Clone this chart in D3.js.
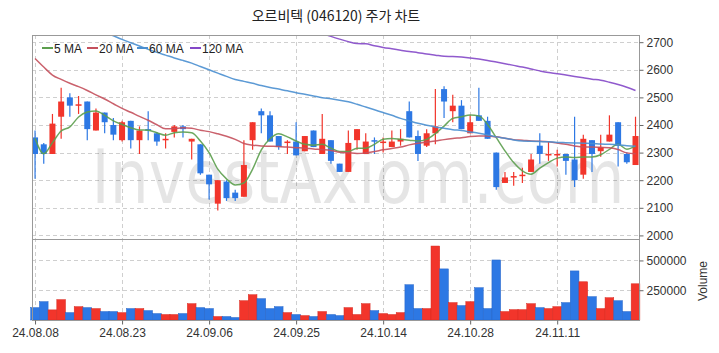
<!DOCTYPE html>
<html>
<head>
<meta charset="utf-8">
<script src="https://cdn.jsdelivr.net/npm/d3@7/dist/d3.min.js"></script>
<style>
  body { margin: 0; background: #fff; }
  svg text { font-family: "Liberation Sans", Arial, sans-serif; }
</style>
</head>
<body>
<div id="chart"></div>
<script>
// trading days (24.08.08 ~ 24.11.22)
var dates = ["08.08","08.09","08.12","08.13","08.14","08.16","08.19","08.20","08.21","08.22",
  "08.23","08.26","08.27","08.28","08.29","08.30","09.02","09.03","09.04","09.05",
  "09.06","09.09","09.10","09.11","09.12","09.13","09.19","09.20","09.23","09.24",
  "09.25","09.26","09.27","09.30","10.02","10.04","10.07","10.08","10.10","10.11",
  "10.14","10.15","10.16","10.17","10.18","10.21","10.22","10.23","10.24","10.25",
  "10.28","10.29","10.30","10.31","11.01","11.04","11.05","11.06","11.07","11.08",
  "11.11","11.12","11.13","11.14","11.15","11.18","11.19","11.20","11.21","11.22"];

var openP  = [2355,2330,2295,2430,2500,2470,2485,2380,2445,2400, 2345,2415,2345,2385,2370,2350,2375,2395,2340,2330,
              2220,2115,2195,2155,2140,2345,2450,2435,2360,2335, 2340,2305,2380,2295,2345,2260,2230,2345,2295,2345,
              2335,2320,2340,2450,2360,2325,2370,2530,2450,2470, 2370,2435,2415,2300,2190,2210,2215,2230,2325,2295,
              2290,2295,2275,2220,2345,2305,2340,2410,2295,2255];
var highP  = [2380,2335,2440,2535,2515,2505,2485,2460,2445,2425, 2415,2415,2395,2450,2375,2370,2400,2400,2350,2330,
              2220,2200,2200,2165,2345,2410,2460,2450,2360,2345, 2410,2360,2380,2440,2345,2260,2380,2385,2370,2355,
              2355,2380,2385,2485,2380,2385,2530,2540,2510,2490, 2435,2535,2430,2300,2230,2230,2245,2295,2370,2340,
              2310,2295,2430,2365,2345,2365,2435,2410,2300,2430];
var lowP   = [2205,2260,2295,2350,2430,2440,2345,2380,2370,2345, 2340,2315,2295,2345,2325,2315,2355,2355,2275,2220,
              2130,2090,2125,2125,2140,2310,2370,2340,2310,2295, 2290,2305,2320,2295,2260,2230,2230,2310,2295,2295,
              2300,2320,2325,2355,2270,2320,2330,2425,2410,2385, 2370,2415,2350,2165,2190,2180,2190,2230,2260,2270,
              2250,2220,2175,2205,2230,2285,2340,2250,2260,2255];
var closeP = [2295,2295,2405,2485,2470,2475,2385,2445,2410,2365, 2410,2345,2380,2380,2340,2350,2395,2385,2350,2225,
              2185,2200,2135,2135,2255,2410,2435,2340,2320,2340, 2290,2360,2320,2350,2270,2230,2335,2385,2340,2340,
              2340,2340,2350,2355,2295,2370,2395,2485,2470,2385, 2410,2415,2350,2175,2210,2215,2220,2275,2295,2295,
              2295,2270,2200,2350,2295,2320,2365,2325,2265,2360];
var volume = [104000,154000,85000,171000,62000,112000,104000,96000,71000,71000, 62000,96000,96000,79000,54000,46000,46000,54000,137000,104000,
              96000,29000,29000,21000,162000,212000,179000,96000,112000,62000, 46000,37000,29000,71000,46000,37000,104000,46000,137000,79000,
              54000,46000,62000,296000,96000,96000,621000,429000,146000,121000, 154000,271000,96000,504000,71000,87000,87000,137000,104000,96000,
              112000,146000,412000,321000,196000,96000,187000,162000,71000,304000];

// moving averages (null = not drawn)
var ma5 = [2352,2296,2336,2378,2393,2429,2447,2451,2435,2415, 2402,2390,2382,2381,2372,2363,2372,2375,2372,2342,
           2300,2240,2205,2183,2190,2240,2310,2350,2368,2357, 2342,2330,2327,2330,2316,2304,2304,2316,2316,2330,
           2348,2351,2348,2345,2342,2348,2369,2396,2424,2430, 2436,2433,2402,2354,2306,2264,2234,2222,2244,2264,
           2280,2284,2282,2284,2284,2292,2312,2330,2312,2324];
var ma20 = [2641,2610,2581,2565,2551,2539,2525,2509,2494,2477, 2460,2446,2431,2417,2401,2386,2387,2390,2388,2381,
            2376,2368,2359,2348,2333,2327,2324,2323,2322,2320, 2318,2316,2313,2311,2308,2301,2299,2297,2299,2304,
            2310,2315,2320,2328,2334,2338,2342,2347,2351,2354, 2358,2360,2360,2357,2352,2347,2345,2342,2341,2339,
            2335,2330,2324,2320,2320,2319,2318,2311,2299,2296];
var ma60 = [null,null,null,null,null,null,null,null,2736,2723, 2710,2698,2686,2674,2663,2653,2643,2634,2624,2612,
            2600,2588,2576,2565,2558,2551,2543,2536,2530,2524, 2517,2511,2505,2499,2495,2490,2484,2475,2465,2455,
            2445,2435,2424,2415,2406,2399,2393,2388,2383,2380, 2375,2370,2364,2357,2352,2346,2342,2341,2340,2339,
            2337,2336,2335,2334,2333,2331,2330,2328,2325,2323];
var ma120 = [null,null,null,null,null,null,null,null,null,null, null,null,null,null,null,null,null,null,null,null,
             null,null,null,null,null,null,null,null,null,null, null,null,null,2732,2721,2711,2702,2695,2694,2687,
             2681,2676,2671,2666,2662,2657,2653,2649,2648,2646, 2643,2639,2634,2628,2622,2616,2610,2603,2596,2590,
             2586,2581,2576,2571,2566,2562,2555,2547,2537,2525];

var priceTicks = [2000,2100,2200,2300,2400,2500,2600,2700];
var volTicks = [250000,500000];
var tickIdx = [0,10,20,30,40,50,60];

var maSeries = [
  {name: "5 MA",   values: ma5,   color: "#5c9e4e"},
  {name: "20 MA",  values: ma20,  color: "#c4505c"},
  {name: "60 MA",  values: ma60,  color: "#4a8fd0"},
  {name: "120 MA", values: ma120, color: "#8448c8"}
];

var upColor = "#f2352b", downColor = "#2d78e4";

var width = 719, height = 353;
var pL = 32, pR = 639, pT = 35, pM = 239, pB = 320;

var svg = d3.select("#chart").append("svg")
  .attr("width", width).attr("height", height);

var x = d3.scaleLinear().domain([-0.35, 69.4]).range([pL, pR]);
var y = d3.scaleLinear().domain([1987, 2726]).range([pM, pT]);
var yv = d3.scaleLinear().domain([0, 680000]).range([pB, pM]);

// clip for price panel
svg.append("defs").append("clipPath").attr("id", "clipP")
  .append("rect").attr("x", pL).attr("y", pT).attr("width", pR - pL).attr("height", pM - pT);

// grid
var grid = svg.append("g").attr("stroke", "#cfcfcf").attr("stroke-dasharray", "4,3").attr("stroke-width", 1);
grid.selectAll(".gy").data(priceTicks).enter().append("line")
  .attr("x1", pL).attr("x2", pR)
  .attr("y1", function(d) { return Math.round(y(d)) + 0.5; })
  .attr("y2", function(d) { return Math.round(y(d)) + 0.5; });
grid.selectAll(".gv").data(volTicks).enter().append("line")
  .attr("x1", pL).attr("x2", pR)
  .attr("y1", function(d) { return Math.round(yv(d)) + 0.5; })
  .attr("y2", function(d) { return Math.round(yv(d)) + 0.5; });
grid.selectAll(".gx").data(tickIdx).enter().append("line")
  .attr("y1", pT).attr("y2", pB)
  .attr("x1", function(d) { return Math.round(x(d)) + 0.5; })
  .attr("x2", function(d) { return Math.round(x(d)) + 0.5; });

// watermark
svg.append("text")
  .attr("x", 358).attr("y", 203)
  .attr("text-anchor", "middle")
  .attr("textLength", 533).attr("lengthAdjust", "spacingAndGlyphs")
  .style("font-family", "'DejaVu Sans', sans-serif")
  .style("font-size", "74px")
  .attr("fill", "#000").attr("fill-opacity", 0.1)
  .text("InvestAxiom.com");

// volume bars
var bw = x(1) - x(0);
svg.append("g").selectAll("rect").data(volume).enter().append("rect")
  .attr("x", function(d, i) { return x(i) - bw / 2; })
  .attr("width", bw)
  .attr("y", function(d) { return yv(d); })
  .attr("height", function(d) { return pB - yv(d); })
  .attr("fill", function(d, i) { return closeP[i] >= openP[i] ? upColor : downColor; })
  .attr("stroke", function(d, i) { return closeP[i] >= openP[i] ? "#d82a20" : "#2464c8"; })
  .attr("stroke-width", 0.5);

// candles
var cw = 6;
var candles = svg.append("g").attr("clip-path", "url(#clipP)");
var cg = candles.selectAll("g").data(closeP).enter().append("g");
cg.append("line")
  .attr("x1", function(d, i) { return x(i); })
  .attr("x2", function(d, i) { return x(i); })
  .attr("y1", function(d, i) { return y(highP[i]); })
  .attr("y2", function(d, i) { return y(lowP[i]); })
  .attr("stroke", function(d, i) { return closeP[i] >= openP[i] ? upColor : downColor; })
  .attr("stroke-width", 1.2);
cg.append("rect")
  .attr("x", function(d, i) { return x(i) - cw / 2; })
  .attr("width", cw)
  .attr("y", function(d, i) { return y(Math.max(openP[i], closeP[i])); })
  .attr("height", function(d, i) { return Math.max(1.5, Math.abs(y(openP[i]) - y(closeP[i]))); })
  .attr("fill", function(d, i) { return closeP[i] >= openP[i] ? upColor : downColor; });

// moving average lines
var line = d3.line()
  .defined(function(d) { return d != null; })
  .x(function(d, i) { return x(i); })
  .y(function(d) { return y(d); })
  .curve(d3.curveMonotoneX);
candles.selectAll(".ma").data(maSeries).enter().append("path")
  .attr("d", function(s) { return line(s.values); })
  .attr("fill", "none")
  .attr("stroke", function(s) { return s.color; })
  .attr("stroke-width", 1.5)
  .attr("stroke-opacity", 0.9);

// frame
svg.append("rect").attr("x", pL + 0.5).attr("y", pT + 0.5)
  .attr("width", pR - pL).attr("height", pB - pT)
  .attr("fill", "none").attr("stroke", "#999");
svg.append("line").attr("x1", pL).attr("x2", pR)
  .attr("y1", pM + 0.5).attr("y2", pM + 0.5).attr("stroke", "#999");

// axes
var axP = svg.append("g").attr("transform", "translate(" + (pR + 0.5) + ",0)")
  .call(d3.axisRight(y).tickValues(priceTicks).tickSize(4).tickFormat(d3.format("d")));
var axV = svg.append("g").attr("transform", "translate(" + (pR + 0.5) + ",0)")
  .call(d3.axisRight(yv).tickValues(volTicks).tickSize(4).tickFormat(d3.format("d")));
var axX = svg.append("g").attr("transform", "translate(0," + (pB + 0.5) + ")")
  .call(d3.axisBottom(x).tickValues(tickIdx).tickSize(4)
    .tickFormat(function(d) { return "24." + dates[d]; }));
[axP, axV, axX].forEach(function(a) {
  a.select(".domain").remove();
  a.selectAll(".tick line").attr("stroke", "#666");
  a.selectAll(".tick text").attr("fill", "#333").style("font-size", "12px");
});
axP.selectAll(".tick text").attr("x", 7);
axV.selectAll(".tick text").attr("x", 7);
axX.selectAll(".tick text").attr("y", 8);

svg.append("text")
  .attr("transform", "translate(707,281) rotate(-90)")
  .attr("text-anchor", "middle")
  .attr("fill", "#333").style("font-size", "12px")
  .text("Volume");

// title
svg.append("text")
  .attr("x", 336).attr("y", 21)
  .attr("text-anchor", "middle")
  .style("font-family", "'Noto Sans CJK KR', sans-serif")
  .style("font-size", "14px").attr("fill", "#222")
  .text("오르비텍 (046120) 주가 차트");

// legend
var legend = svg.append("g").selectAll(".legend").data(maSeries).enter().append("g")
  .attr("transform", function(d, i) {
    var offs = [42, 87, 137, 190];
    return "translate(" + offs[i] + ",48)";
  });
legend.append("line").attr("x1", 0).attr("x2", 11).attr("y1", 0).attr("y2", 0)
  .attr("stroke", function(d) { return d.color; }).attr("stroke-width", 2);
legend.append("text").attr("x", 12).attr("y", 4.5)
  .style("font-size", "12px").attr("fill", "#222")
  .text(function(d) { return d.name; });
</script>
</body>
</html>
